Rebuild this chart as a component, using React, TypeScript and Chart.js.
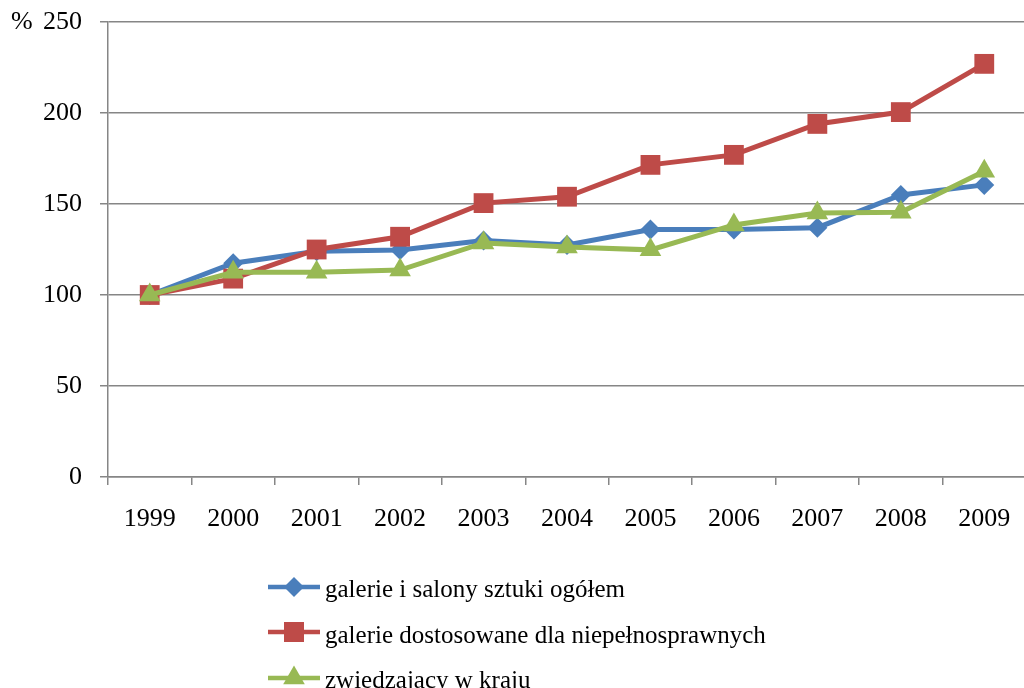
import React, { useEffect, useRef } from 'react';
import { Chart, registerables } from 'chart.js';

Chart.register(...registerables);

const years = ['1999', '2000', '2001', '2002', '2003', '2004', '2005', '2006', '2007', '2008', '2009'];
const galerieOgolem = [100, 117.5, 124, 124.7, 130, 127.5, 136, 136, 137, 155, 160.5];
const galerieDostosowane = [100, 109, 125, 132, 150.5, 154, 171.5, 177, 194, 200.5, 227];
const zwiedzajacy = [100, 112.5, 112.5, 113.7, 128.6, 126.4, 124.8, 138.5, 145, 145.5, 168];
const seriesNames = [
  'galerie i salony sztuki ogółem',
  'galerie dostosowane dla niepełnosprawnych',
  'zwiedzający w kraju',
];
const yMin = 0;
const yMax = 250;
const yStep = 50;

const BLUE = '#4A7EBB';
const RED = '#BE4B48';
const GREEN = '#98B954';
const GRID = '#868686';
const FONT = '"Liberation Serif", "Times New Roman", serif';

function drawMarker(ctx: CanvasRenderingContext2D, style: string, x: number, y: number, color: string) {
  ctx.save();
  ctx.fillStyle = color;
  ctx.beginPath();
  if (style === 'rectRot') {
    const r = 10;
    ctx.moveTo(x, y - r);
    ctx.lineTo(x + r, y);
    ctx.lineTo(x, y + r);
    ctx.lineTo(x - r, y);
  } else if (style === 'rect') {
    const s = 10;
    ctx.rect(x - s, y - s, 2 * s, 2 * s);
  } else {
    const r = 12.5;
    ctx.moveTo(x, y - r);
    ctx.lineTo(x + r * Math.cos(Math.PI / 6), y + r / 2);
    ctx.lineTo(x - r * Math.cos(Math.PI / 6), y + r / 2);
  }
  ctx.closePath();
  ctx.fill();
  ctx.restore();
}

const extrasPlugin = {
  id: 'extras',
  afterDraw(chart: any) {
    const ctx: CanvasRenderingContext2D = chart.ctx;
    ctx.save();
    // % unit label
    ctx.fillStyle = '#000';
    ctx.font = `26px ${FONT}`;
    ctx.textAlign = 'left';
    ctx.textBaseline = 'middle';
    const yTop = chart.scales.y.getPixelForValue(yMax);
    ctx.fillText('%', 11, yTop);

    // legend
    const items = [
      { label: seriesNames[0], color: BLUE, style: 'rectRot' },
      { label: seriesNames[1], color: RED, style: 'rect' },
      { label: seriesNames[2], color: GREEN, style: 'triangle' },
    ];
    const lineRows = [587, 632, 678];
    const textBase = [597, 643, 688];
    items.forEach((it, i) => {
      const y = lineRows[i];
      ctx.strokeStyle = it.color;
      ctx.lineWidth = 4.5;
      ctx.beginPath();
      ctx.moveTo(268, y);
      ctx.lineTo(320, y);
      ctx.stroke();
      drawMarker(ctx, it.style, 294, y, it.color);
      ctx.fillStyle = '#000';
      ctx.font = `25px ${FONT}`;
      ctx.textAlign = 'left';
      ctx.textBaseline = 'alphabetic';
      ctx.fillText(it.label, 325, textBase[i]);
    });
    ctx.restore();
  },
};

export default function App() {
  const canvasRef = useRef<HTMLCanvasElement | null>(null);

  useEffect(() => {
    document.body.style.margin = '0';
    document.body.style.overflow = 'hidden';
    const canvas = canvasRef.current;
    if (!canvas) return;
    const chart = new Chart(canvas, {
      type: 'line',
      data: {
        labels: years,
        datasets: [
          {
            label: seriesNames[0],
            data: galerieOgolem,
            borderColor: BLUE,
            backgroundColor: BLUE,
            borderWidth: 5,
            pointStyle: 'rectRot',
            pointRadius: 10,
            pointBorderWidth: 0,
            pointBackgroundColor: BLUE,
            tension: 0,
            order: 3,
          },
          {
            label: seriesNames[1],
            data: galerieDostosowane,
            borderColor: RED,
            backgroundColor: RED,
            borderWidth: 5,
            pointStyle: 'rect',
            pointRadius: 14,
            pointBorderWidth: 0,
            pointBackgroundColor: RED,
            tension: 0,
            order: 2,
          },
          {
            label: seriesNames[2],
            data: zwiedzajacy,
            borderColor: GREEN,
            backgroundColor: GREEN,
            borderWidth: 5,
            pointStyle: 'triangle',
            pointRadius: 12.5,
            pointBorderWidth: 0,
            pointBackgroundColor: GREEN,
            tension: 0,
            order: 1,
          },
        ],
      },
      options: {
        responsive: false,
        animation: false,
        layout: { padding: { top: 22, right: 8, bottom: 0, left: 0 } },
        plugins: {
          legend: { display: false },
          tooltip: { enabled: false },
        },
        scales: {
          x: {
            offset: true,
            grid: {
              offset: true,
              drawOnChartArea: false,
              drawTicks: true,
              tickLength: 8,
              color: GRID,
              lineWidth: 1.5,
            },
            border: { display: true, color: GRID, width: 1.5 },
            ticks: {
              color: '#000',
              font: { family: FONT, size: 26 },
              padding: 19,
              maxRotation: 0,
              autoSkip: false,
            },
            afterFit(scale: any) {
              scale.height = 211;
              scale.paddingLeft = 0;
              scale.paddingRight = 0;
            },
          },
          y: {
            min: yMin,
            max: yMax,
            grid: {
              color: GRID,
              lineWidth: 1.5,
              drawTicks: true,
              tickLength: 8,
            },
            border: { display: true, color: GRID, width: 1.5 },
            ticks: {
              stepSize: yStep,
              color: '#000',
              font: { family: FONT, size: 26 },
              padding: 18,
            },
            afterFit(scale: any) {
              scale.width = 108;
              scale.paddingTop = 0;
              scale.paddingBottom = 0;
            },
          },
        },
      },
      plugins: [extrasPlugin],
    });
    return () => chart.destroy();
  }, []);

  return (
    <div style={{ width: 1040, height: 688, position: 'relative' }}>
      <canvas ref={canvasRef} width={1040} height={688} style={{ display: 'block' }} />
    </div>
  );
}
